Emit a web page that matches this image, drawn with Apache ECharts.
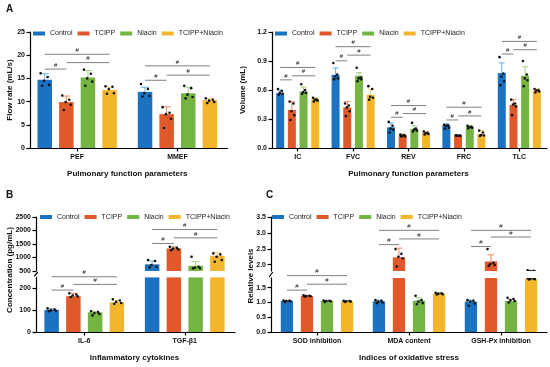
<!DOCTYPE html>
<html><head><meta charset="utf-8">
<script src="https://cdn.jsdelivr.net/npm/echarts@6/dist/echarts.min.js"></script>
<style>html,body{margin:0;padding:0;background:#fff}#c{width:550px;height:367px}</style>
</head><body><div id="c"></div>
<script>
const FONT = "'Liberation Sans', Arial, Helvetica, sans-serif";
const groups = ['Control', 'TCIPP', 'Niacin', 'TCIPP+Niacin'];
const barColors = ['#1b72c1', '#e0592b', '#74b443', '#f3b52c'];
const errColors = ['#62aee8', '#ec8a62', '#a4d07e', '#f7cd72'];

// ---------- Panel A (left): flow rate ----------
const flowCats = ['PEF', 'MMEF'];
const flowMean = [[14.7, 12.1], [9.9, 7.3], [15.2, 11.8], [12.5, 10.3]];
const flowSd = [[1.3, 1.0], [1.3, 1.6], [1.5, 1.3], [0.6, 0.4]];
const flowDots = [
  [[16.1, 15.3, 14.5, 13.6, 13.4], [13.8, 12.7, 11.8, 11.2, 11.1]],
  [[11.3, 10.4, 9.9, 9.3, 8.2], [8.8, 7.6, 7.3, 6.3, 4.3]],
  [[16.9, 16.0, 15.0, 14.3, 13.4], [13.4, 12.9, 11.5, 11.0, 10.7]],
  [[13.3, 13.2, 12.7, 11.8, 11.7], [10.7, 10.4, 10.2, 9.9, 9.7]]
];
const flowTicks = [0, 5, 10, 15, 20, 25];
const flowBrackets = [[0, 0, 1, 17.0], [0, 1, 3, 18.4], [0, 0, 3, 20.2], [1, 0, 1, 14.6], [1, 1, 3, 15.7], [1, 0, 3, 17.7]];

// ---------- Panel A (right): volume ----------
const volCats = ['IC', 'FVC', 'REV', 'FRC', 'TLC'];
const volMean = [
  [0.567, 0.757, 0.214, 0.235, 0.775],
  [0.394, 0.42, 0.135, 0.131, 0.446],
  [0.584, 0.747, 0.197, 0.221, 0.747],
  [0.505, 0.55, 0.156, 0.145, 0.595]
];
const volSd = [
  [0.033, 0.07, 0.045, 0.015, 0.105],
  [0.086, 0.06, 0.007, 0.003, 0.054],
  [0.046, 0.033, 0.033, 0.014, 0.093],
  [0.015, 0.06, 0.014, 0.035, 0.015]
];
const volDots = [
  [[0.61, 0.59, 0.57, 0.56, 0.55], [0.88, 0.76, 0.74, 0.72, 0.71], [0.27, 0.23, 0.20, 0.19, 0.16], [0.24, 0.235, 0.23, 0.21, 0.20], [0.94, 0.77, 0.74, 0.69, 0.65]],
  [[0.48, 0.46, 0.38, 0.34, 0.29], [0.46, 0.44, 0.42, 0.38, 0.33], [0.14, 0.135, 0.125, 0.12, 0.12], [0.131, 0.13, 0.128, 0.127, 0.126], [0.50, 0.46, 0.45, 0.43, 0.34]],
  [[0.66, 0.60, 0.58, 0.57, 0.56], [0.83, 0.73, 0.72, 0.71, 0.69], [0.26, 0.20, 0.19, 0.18, 0.17], [0.23, 0.22, 0.215, 0.21, 0.205], [0.90, 0.76, 0.72, 0.70, 0.64]],
  [[0.52, 0.50, 0.50, 0.49, 0.48], [0.64, 0.61, 0.53, 0.52, 0.50], [0.17, 0.156, 0.152, 0.145, 0.14], [0.18, 0.16, 0.135, 0.13, 0.125], [0.61, 0.60, 0.595, 0.585, 0.575]]
];
const volTicks = [0, 0.3, 0.6, 0.9, 1.2];
const volBrackets = [
  [0, 0, 1, 0.705], [0, 1, 3, 0.747], [0, 0, 3, 0.833],
  [1, 0, 1, 0.902], [1, 1, 3, 0.961], [1, 0, 3, 1.048],
  [2, 0, 1, 0.318], [2, 1, 3, 0.356], [2, 0, 3, 0.439],
  [3, 0, 1, 0.29], [3, 1, 3, 0.332], [3, 0, 3, 0.422],
  [4, 0, 1, 0.972], [4, 1, 3, 1.017], [4, 0, 3, 1.103]
];

// ---------- Panel B: cytokines (broken axis) ----------
const cytoCats = ['IL-6', 'TGF-β1'];
const cytoMean = [[101, 747], [164, 1336], [90, 695], [136, 1063]];
const cytoSd = [[5, 120], [13, 60], [5, 148], [8, 112]];
const cytoDots = [
  [[108, 103, 100, 97, 95], [905, 868, 721, 658, 636]],
  [[177, 172, 167, 163, 160], [1395, 1358, 1336, 1300, 1273]],
  [[95, 91, 87, 82, 76], [1027, 658, 620, 600, 598]],
  [[150, 144, 138, 133, 129], [1152, 1115, 1027, 905, 843]]
];
const cytoLowTicks = [0, 100, 200];
const cytoHighTicks = [500, 1000, 1500, 2000, 2500];
const cytoBracketsLow = [[0, 0, 1, 192], [0, 1, 3, 218], [0, 0, 3, 253]];
const cytoBracketsHigh = [[1, 0, 1, 1520], [1, 1, 3, 1727], [1, 0, 3, 2036]];

// ---------- Panel C: oxidative stress (broken axis) ----------
const oxCats = ['SOD inhibition', 'MDA content', 'GSH-Px inhibition'];
const oxMean = [[1.05, 1.04, 1.03], [1.22, 2.23, 2.10], [1.05, 1.06, 1.05], [1.04, 1.30, 1.79]];
const oxSd = [[0.02, 0.04, 0.05], [0.02, 0.29, 0.21], [0.02, 0.10, 0.06], [0.02, 0.02, 0.02]];
const oxDots = [
  [[1.07, 1.06, 1.05, 1.04, 1.02], [1.08, 1.06, 1.03, 1.00, 0.98], [1.08, 1.06, 1.03, 0.97, 0.89]],
  [[1.24, 1.23, 1.22, 1.21, 1.20], [2.49, 2.34, 2.25, 2.20, 1.94], [2.49, 2.06, 2.02, 1.99, 1.96]],
  [[1.07, 1.06, 1.05, 1.04, 1.02], [1.23, 1.08, 1.03, 0.98, 0.94], [1.16, 1.12, 1.08, 1.05, 1.00]],
  [[1.06, 1.05, 1.04, 1.03, 1.02], [1.33, 1.31, 1.30, 1.28, 1.27], [1.82, 1.81, 1.80, 1.79, 1.78]]
];
const oxLowTicks = [0, 0.5, 1.0, 1.5];
const oxHighTicks = [2.0, 2.5, 3.0, 3.5];
const oxBracketsLow = [[0, 0, 1, 1.42], [0, 1, 3, 1.62], [0, 0, 3, 1.91]];
const oxBracketsHigh = [[1, 0, 1, 2.63], [1, 1, 3, 2.81], [1, 0, 3, 3.08], [2, 0, 1, 2.57], [2, 1, 3, 2.87], [2, 0, 3, 3.08]];

// ---------- layout (styling only) ----------
const LA1 = { left: 27, top: 32, width: 200.6, height: 116, yOff: -3, w: 14.5, g: 0.49, cap: 8 };
const LA2 = { left: 270, top: 32, width: 277, height: 116, yOff: -2, w: 8, g: 0.46, cap: 6 };
const LB = { left: 34, width: 201, hiTop: 217, hiH: 54, loTop: 277.4, loH: 54.6, yOff: -2, w: 14.5, g: 0.5, cap: 8 };
const LC = { left: 271, width: 276, hiTop: 217, hiH: 54, loTop: 278, loH: 54, yOff: 0, w: 12.3, g: 0.63, cap: 7 };
const JIT = [-0.28, 0.2, -0.05, 0.3, -0.18];

function off(g, lay) { return (g - 1.5) * lay.w * (1 + lay.g); }

function barSeries(ax, means, lay) {
  return means.map((arr, g) => ({
    type: 'bar', name: groups[g], xAxisIndex: ax, yAxisIndex: ax, data: arr,
    barWidth: lay.w, barGap: (lay.g * 100) + '%', itemStyle: { color: barColors[g] },
    silent: true, z: 2, clip: true
  }));
}
function errSeries(ax, means, sds, lay) {
  const data = [];
  means.forEach((arr, g) => arr.forEach((m, c) => data.push([c, g, m, sds[g][c]])));
  return {
    type: 'custom', xAxisIndex: ax, yAxisIndex: ax, clip: true, silent: true, z: 3,
    encode: { x: 0, y: 2 }, data,
    renderItem(p, api) {
      const c = api.value(0), g = api.value(1), m = api.value(2), s = api.value(3);
      const b = api.coord([c, m]), t = api.coord([c, m + s]);
      const x = b[0] + off(g, lay);
      const st = { stroke: errColors[g], lineWidth: 1 };
      return { type: 'group', children: [
        { type: 'line', shape: { x1: x, y1: b[1], x2: x, y2: t[1] }, style: st },
        { type: 'line', shape: { x1: x - lay.cap / 2, y1: t[1], x2: x + lay.cap / 2, y2: t[1] }, style: st }
      ] };
    }
  };
}
function dotSeries(ax, dots, lay) {
  const data = [];
  dots.forEach((byCat, g) => byCat.forEach((pts, c) => pts.forEach((v, k) => data.push([c, g, v, k]))));
  return {
    type: 'custom', xAxisIndex: ax, yAxisIndex: ax, clip: true, silent: true, z: 5,
    encode: { x: 0, y: 2 }, data,
    renderItem(p, api) {
      const c = api.value(0), g = api.value(1), v = api.value(2), k = api.value(3);
      const pt = api.coord([c, v]);
      return { type: 'circle', shape: { cx: pt[0] + off(g, lay) + JIT[k % JIT.length] * lay.w, cy: pt[1], r: 1.3 }, style: { fill: '#111' } };
    }
  };
}
function brSeries(ax, list, lay) {
  return {
    type: 'custom', xAxisIndex: ax, yAxisIndex: ax, clip: false, silent: true, z: 6,
    encode: { x: 0, y: 3 }, data: list,
    renderItem(p, api) {
      const c = api.value(0), a = api.value(1), b = api.value(2), v = api.value(3);
      const pt = api.coord([c, v]);
      const x1 = pt[0] + off(a, lay), x2 = pt[0] + off(b, lay);
      return { type: 'group', children: [
        { type: 'line', shape: { x1, y1: pt[1], x2, y2: pt[1] }, style: { stroke: '#808080', lineWidth: 1 } },
        { type: 'text', x: (x1 + x2) / 2, y: pt[1] - 1, style: { text: '#', fontSize: 6, fill: '#111', align: 'center', verticalAlign: 'bottom', fontFamily: FONT } }
      ] };
    }
  };
}

const axisLineStyle = { color: '#000', width: 1.2 };
function xAx(gi, cats, show, name) {
  return {
    type: 'category', gridIndex: gi, data: cats, show,
    axisLine: { show: true, onZero: false, lineStyle: axisLineStyle },
    axisTick: { show: true, alignWithLabel: true, length: 3.5, lineStyle: axisLineStyle },
    axisLabel: { fontSize: 7, fontWeight: 'bold', color: '#111', margin: 6, fontFamily: FONT, interval: 0 },
    name: name || '', nameLocation: 'middle', nameGap: 22,
    nameTextStyle: { fontSize: 8, fontWeight: 'bold', color: '#111', fontFamily: FONT }
  };
}
function yAx(gi, min, max, ticks, dec, yOff, name, nameGap) {
  return {
    type: 'value', gridIndex: gi, min, max, offset: yOff,
    axisLine: { show: true, lineStyle: axisLineStyle },
    axisTick: { show: true, length: 3.5, lineStyle: axisLineStyle, customValues: ticks },
    axisLabel: { fontSize: 7, fontWeight: 'bold', color: '#111', margin: 5, fontFamily: FONT, customValues: ticks,
      formatter: v => dec ? Number(v).toFixed(dec) : String(Math.round(v)) },
    splitLine: { show: false },
    name: name || '', nameLocation: 'middle', nameGap: nameGap || 0,
    nameTextStyle: { fontSize: 8, fontWeight: 'bold', color: '#111', fontFamily: FONT }
  };
}

const grids = [
  { left: LA1.left, top: LA1.top, width: LA1.width, height: LA1.height },
  { left: LA2.left, top: LA2.top, width: LA2.width, height: LA2.height },
  { left: LB.left, top: LB.hiTop, width: LB.width, height: LB.hiH },
  { left: LB.left, top: LB.loTop, width: LB.width, height: LB.loH },
  { left: LC.left, top: LC.hiTop, width: LC.width, height: LC.hiH },
  { left: LC.left, top: LC.loTop, width: LC.width, height: LC.loH }
].map(g => Object.assign(g, { containLabel: false, outerBoundsMode: 'none' }));

const xAxes = [
  xAx(0, flowCats, true, 'Pulmonary function parameters'),
  xAx(1, volCats, true, 'Pulmonary function parameters'),
  xAx(2, cytoCats, false),
  xAx(3, cytoCats, true, 'Inflammatory cytokines'),
  xAx(4, oxCats, false),
  xAx(5, oxCats, true, 'Indices of oxidative stress')
];
const yAxes = [
  yAx(0, 0, 25, flowTicks, 0, LA1.yOff, 'Flow rate (mL/s)', 15),
  yAx(1, 0, 1.2, volTicks, 1, LA2.yOff, 'Volume (mL)', 17),
  yAx(2, 500, 2500, cytoHighTicks, 0, LB.yOff),
  yAx(3, 0, 250, cytoLowTicks, 0, LB.yOff),
  yAx(4, 1.8, 3.5, oxHighTicks, 1, LC.yOff),
  yAx(5, 0, 1.83, oxLowTicks, 1, LC.yOff)
];

const series = [].concat(
  barSeries(0, flowMean, LA1), [errSeries(0, flowMean, flowSd, LA1), dotSeries(0, flowDots, LA1), brSeries(0, flowBrackets, LA1)],
  barSeries(1, volMean, LA2), [errSeries(1, volMean, volSd, LA2), dotSeries(1, volDots, LA2), brSeries(1, volBrackets, LA2)],
  barSeries(2, cytoMean, LB), [errSeries(2, cytoMean, cytoSd, LB), dotSeries(2, cytoDots, LB), brSeries(2, cytoBracketsHigh, LB)],
  barSeries(3, cytoMean, LB), [errSeries(3, cytoMean, cytoSd, LB), dotSeries(3, cytoDots, LB), brSeries(3, cytoBracketsLow, LB)],
  barSeries(4, oxMean, LC), [errSeries(4, oxMean, oxSd, LC), dotSeries(4, oxDots, LC), brSeries(4, oxBracketsHigh, LC)],
  barSeries(5, oxMean, LC), [errSeries(5, oxMean, oxSd, LC), dotSeries(5, oxDots, LC), brSeries(5, oxBracketsLow, LC)]
);

function legend(left, top) {
  return { data: groups, left, top, orient: 'horizontal', icon: 'rect', itemWidth: 12, itemHeight: 4, itemGap: 5,
    padding: 0, selectedMode: false, textStyle: { fontSize: 7, color: '#222', fontFamily: FONT } };
}

function breakMark(x, yTop, yBot) {
  return { type: 'line', shape: { x1: x - 1.8, y1: yBot - 1, x2: x + 1.8, y2: yTop + 1 }, style: { stroke: '#000', lineWidth: 1.2 } };
}
function title(text, x, y, rot) {
  return { type: 'text', x, y, rotation: rot || 0,
    style: { text, fontSize: 8, fontWeight: 'bold', fill: '#111', align: 'center', verticalAlign: 'middle', fontFamily: FONT } };
}
const bAxisX = LB.left - LB.yOff, cAxisX = LC.left - LC.yOff;
const graphics = [
  { type: 'text', left: 6, top: 4, style: { text: 'A', fontSize: 10, fontWeight: 'bold', fill: '#111', fontFamily: FONT } },
  { type: 'text', left: 6, top: 190, style: { text: 'B', fontSize: 10, fontWeight: 'bold', fill: '#111', fontFamily: FONT } },
  { type: 'text', left: 266, top: 190, style: { text: 'C', fontSize: 10, fontWeight: 'bold', fill: '#111', fontFamily: FONT } },
  title('Concentration (pg/mL)', 10, 270, Math.PI / 2),
  title('Relative levels', 251, 276, Math.PI / 2),
  breakMark(bAxisX, LB.hiTop + LB.hiH, LB.loTop),
  breakMark(cAxisX, LC.hiTop + LC.hiH, LC.loTop)
];

const chart = echarts.init(document.getElementById('c'), null, { renderer: 'canvas' });
chart.setOption({
  animation: false,
  backgroundColor: '#fff',
  textStyle: { fontFamily: FONT },
  grid: grids,
  xAxis: xAxes,
  yAxis: yAxes,
  legend: [legend(33, 30), legend(275, 30), legend(40, 213.5), legend(272, 213.5)],
  graphic: graphics,
  series
});
</script></body></html>
